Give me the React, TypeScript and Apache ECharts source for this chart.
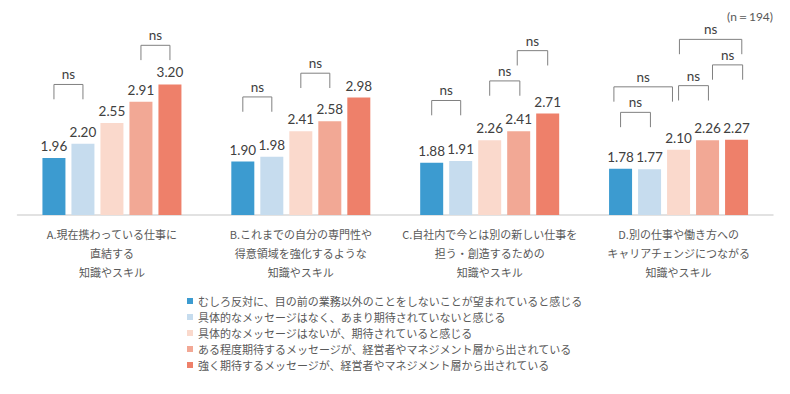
import React, { useEffect, useRef } from "react";
import * as echarts from "echarts";

const categories = [
  "A.現在携わっている仕事に\n直結する\n知識やスキル",
  "B.これまでの自分の専門性や\n得意領域を強化するような\n知識やスキル",
  "C.自社内で今とは別の新しい仕事を\n担う・創造するための\n知識やスキル",
  "D.別の仕事や働き方への\nキャリアチェンジにつながる\n知識やスキル",
];

const seriesNames = [
  "むしろ反対に、目の前の業務以外のことをしないことが望まれていると感じる",
  "具体的なメッセージはなく、あまり期待されていないと感じる",
  "具体的なメッセージはないが、期待されていると感じる",
  "ある程度期待するメッセージが、経営者やマネジメント層から出されている",
  "強く期待するメッセージが、経営者やマネジメント層から出されている",
];

const s1 = [1.96, 1.9, 1.88, 1.78];
const s2 = [2.2, 1.98, 1.91, 1.77];
const s3 = [2.55, 2.41, 2.26, 2.1];
const s4 = [2.91, 2.58, 2.41, 2.26];
const s5 = [3.2, 2.98, 2.71, 2.27];
const seriesValues = [s1, s2, s3, s4, s5];

const colors = ["#3C9BD0", "#C6DCEE", "#FAD9CC", "#F2A895", "#EE806A"];

// [categoryIndex, fromBar, toBar, bracketTopValue]
const brackets = [
  [0, 0, 1, 3.2],
  [0, 3, 4, 3.86],
  [1, 0, 1, 2.99],
  [1, 2, 3, 3.39],
  [2, 0, 1, 2.93],
  [2, 2, 3.04, 3.26],
  [2, 2.95, 4, 3.77],
  [3, 0, 1.03, 2.73],
  [3, -0.23, 1.79, 3.16],
  [3, 2, 3.03, 3.18],
  [3, 3.17, 4.21, 3.53],
  [3, 2.03, 4.18, 3.96],
];
const bracketLabel = "ns";
const sampleNote = "(n＝194)";

const BAR_W = 23;
const BAR_GAP = 6;
const LEG = 0.25;

export default function App() {
  const ref = useRef<HTMLDivElement>(null);
  useEffect(() => {
    if (!ref.current) return;
    const chart = echarts.init(ref.current, null, { renderer: "svg" });
    const n = seriesValues.length;
    const step = BAR_W + BAR_GAP;
    const barSeries = seriesValues.map((vals, i) => ({
      type: "bar",
      name: seriesNames[i],
      data: vals,
      barWidth: BAR_W,
      barGap: (BAR_GAP / BAR_W) * 100 + "%",
      itemStyle: { color: colors[i] },
      label: {
        show: true,
        position: "top",
        distance: 5,
        formatter: (p: any) => Number(p.value).toFixed(2),
        fontSize: 13.5,
        fontFamily: "Lato, 'Liberation Sans', sans-serif",
        color: "#404040",
      },
    }));
    const option: any = {
      animation: false,
      grid: { left: 17.5, right: 17, top: 37, bottom: 179 },
      xAxis: {
        type: "category",
        data: categories,
        axisTick: { show: false },
        axisLine: { lineStyle: { color: "#D9D9D9", width: 1.5 } },
        axisLabel: {
          interval: 0,
          fontSize: 11,
          lineHeight: 19,
          margin: 9,
          color: "#595959",
          fontFamily: "'Noto Sans CJK JP', sans-serif",
        },
      },
      yAxis: {
        type: "value",
        min: 1,
        max: 4,
        show: false,
        splitLine: { show: false },
      },
      legend: {
        orient: "vertical",
        left: 187,
        top: 293,
        padding: 0,
        itemGap: 0,
        itemWidth: 6,
        itemHeight: 6,
        icon: "rect",
        data: seriesNames,
        textStyle: {
          fontSize: 11,
          lineHeight: 16,
          color: "#595959",
          fontFamily: "'Noto Sans CJK JP', sans-serif",
        },
      },
      graphic: [
        {
          type: "text",
          right: 17,
          top: 10,
          style: {
            text: sampleNote,
            fontSize: 12,
            fill: "#595959",
            fontFamily: "Lato, sans-serif",
          },
        },
      ],
      series: [
        ...barSeries,
        {
          type: "custom",
          name: "brackets",
          clip: false,
          silent: true,
          data: brackets,
          encode: { x: 0, y: 3 },
          renderItem: (params: any, api: any) => {
            const cat = api.value(0);
            const from = api.value(1);
            const to = api.value(2);
            const top = api.value(3);
            const c = api.coord([cat, top]);
            const b = api.coord([cat, top - LEG]);
            const firstCenter = c[0] - ((n - 1) / 2) * step;
            const xl = firstCenter + from * step;
            const xr = firstCenter + to * step;
            return {
              type: "group",
              children: [
                {
                  type: "polyline",
                  shape: {
                    points: [
                      [xl, b[1]],
                      [xl, c[1]],
                      [xr, c[1]],
                      [xr, b[1]],
                    ],
                  },
                  style: { stroke: "#808080", lineWidth: 1, fill: null },
                },
                {
                  type: "text",
                  x: (xl + xr) / 2,
                  y: c[1] - 3,
                  style: {
                    text: bracketLabel,
                    align: "center",
                    verticalAlign: "bottom",
                    fontSize: 13.5,
                    fontFamily: "Lato, sans-serif",
                    fill: "#404040",
                  },
                },
              ],
            };
          },
        },
      ],
    };
    chart.setOption(option);
    return () => chart.dispose();
  }, []);
  return (
    <div
      ref={ref}
      style={{ position: "fixed", left: 0, top: 0, width: 790, height: 394, background: "#fff" }}
    />
  );
}
